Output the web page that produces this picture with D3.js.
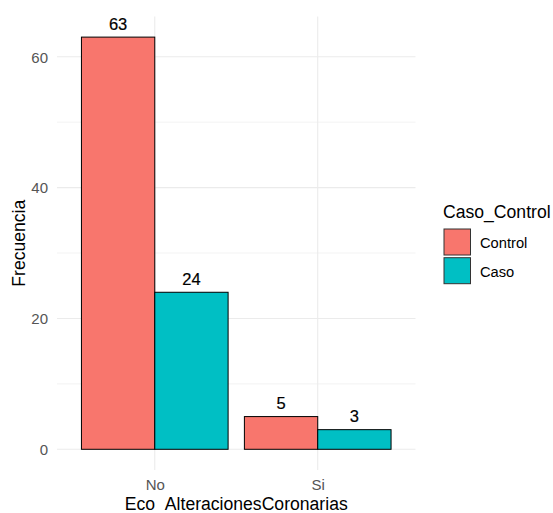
<!DOCTYPE html>
<html><head><meta charset="utf-8">
<script src="https://cdn.jsdelivr.net/npm/d3@7"></script>
<style>body{margin:0;background:#fff;} text{font-family:"Liberation Sans",Arial,sans-serif;}</style>
</head><body>
<svg id="c" width="553" height="513"></svg>
<script>
const categories = ["No", "Si"];
const groups = ["Control", "Caso"];
const controlValues = [63, 5];
const casoValues = [24, 3];
const yTicks = [0, 20, 40, 60];
const yMinor = [10, 30, 50];
const colors = ["#F8766D", "#00BFC4"];

const data = [];
categories.forEach((c, i) => {
  data.push({cat: c, group: "Control", value: controlValues[i]});
  data.push({cat: c, group: "Caso", value: casoValues[i]});
});

const FF = "Liberation Sans, Arial, sans-serif";
const svg = d3.select("#c");
const L = 57, R = 415.5, T = 16.5, B = 469.9;
const maxV = d3.max(data, d => d.value);
const y = d3.scaleLinear().domain([-maxV * 0.05, maxV * 1.05]).range([B, T]);
// discrete scale with expand 0.6: positions at 1 and 2 over [0.4, 2.6]
const xs = d3.scaleLinear().domain([0.4, categories.length + 0.6]).range([L, R]);
const catPos = c => xs(categories.indexOf(c) + 1);
const step = xs(2) - xs(1);
const barW = step * 0.9 / 2;
const xg = d3.scaleBand().domain(groups).range([-barW, barW]).padding(0);
const color = d3.scaleOrdinal().domain(groups).range(colors);

// grid
const g = svg.append("g");
yMinor.forEach(v => g.append("line").attr("x1", L).attr("x2", R).attr("y1", y(v)).attr("y2", y(v)).attr("stroke", "#EBEBEB").attr("stroke-width", 0.6));
yTicks.forEach(v => g.append("line").attr("x1", L).attr("x2", R).attr("y1", y(v)).attr("y2", y(v)).attr("stroke", "#EBEBEB").attr("stroke-width", 1.1));
categories.forEach(c => g.append("line").attr("x1", catPos(c)).attr("x2", catPos(c)).attr("y1", T).attr("y2", B).attr("stroke", "#EBEBEB").attr("stroke-width", 1.1));

// bars
svg.append("g").selectAll("rect").data(data).join("rect")
  .attr("x", d => catPos(d.cat) + xg(d.group))
  .attr("width", xg.bandwidth())
  .attr("y", d => y(d.value))
  .attr("height", d => y(0) - y(d.value))
  .attr("fill", d => color(d.group))
  .attr("stroke", "#000").attr("stroke-width", 1);

// labels
svg.append("g").selectAll("text").data(data).join("text")
  .attr("x", d => catPos(d.cat) + xg(d.group) + xg.bandwidth() / 2)
  .attr("y", d => y(d.value) - 7.3)
  .attr("text-anchor", "middle")
  .attr("font-size", 16.5).attr("fill", "#000").attr("stroke", "#000").attr("stroke-width", 0.2)
  .text(d => d.value);

// y axis ticks
const yAxis = d3.axisLeft(y).tickValues(yTicks).tickSize(0).tickPadding(9);
const ya = svg.append("g").attr("transform", `translate(${L},0)`).call(yAxis);
ya.select(".domain").remove();
ya.selectAll("text").attr("font-size", 15).attr("fill", "#555").attr("font-family", FF).attr("dy", "0.36em");

// x axis ticks
const xAxis = d3.axisBottom(xs).tickValues(d3.range(1, categories.length + 1)).tickFormat(d => categories[d - 1]).tickSize(0).tickPadding(0);
const xa = svg.append("g").attr("transform", `translate(0,${B})`).call(xAxis);
xa.select(".domain").remove();
xa.selectAll("text").attr("font-size", 15).attr("fill", "#555").attr("font-family", FF).attr("dy", null).attr("y", 20);

// axis titles
svg.append("text").attr("x", (L + R) / 2).attr("y", 510).attr("text-anchor", "middle")
  .attr("font-size", 17.6).attr("fill", "#000").text("Eco_AlteracionesCoronarias");
svg.append("text").attr("transform", `translate(25,${(T + B) / 2}) rotate(-90)`).attr("text-anchor", "middle")
  .attr("font-size", 17.6).attr("fill", "#000").text("Frecuencia");

// legend
const lg = svg.append("g");
lg.append("text").attr("x", 443).attr("y", 218).attr("font-size", 17.6).attr("fill", "#000").text("Caso_Control");
groups.forEach((grp, i) => {
  const yy = 229 + i * 28.7;
  lg.append("rect").attr("x", 444).attr("y", yy).attr("width", 26.5).attr("height", 26)
    .attr("fill", color(grp)).attr("stroke", "#333").attr("stroke-width", 1);
  lg.append("text").attr("x", 480).attr("y", yy + 19.3).attr("font-size", 14.7).attr("fill", "#000").text(grp);
});
</script>
</body></html>
